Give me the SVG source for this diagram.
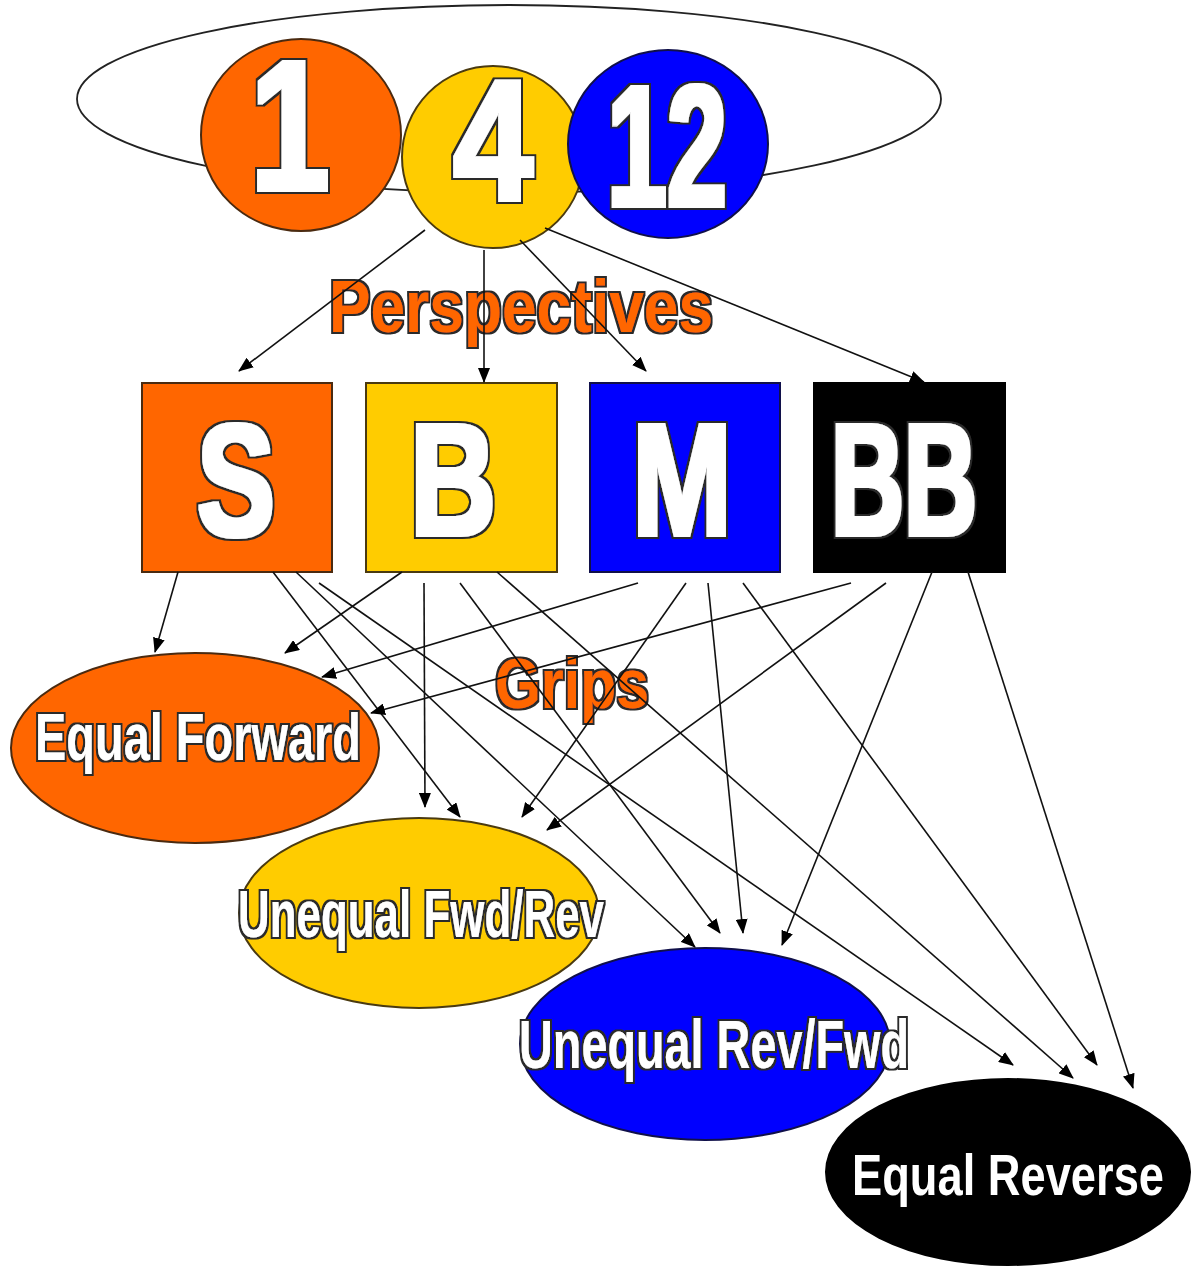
<svg xmlns="http://www.w3.org/2000/svg" width="1192" height="1269" viewBox="0 0 1192 1269">
  <defs>
    <marker id="arrow" markerWidth="15" markerHeight="12" refX="14" refY="6" orient="auto" markerUnits="userSpaceOnUse">
      <path d="M0,0 L15,6 L0,12 z" fill="#000"/>
    </marker>
    <!-- thickens glyphs and rings them with a dark outline -->
    <filter id="heavy" x="-15%" y="-15%" width="130%" height="130%">
      <feMorphology in="SourceGraphic" operator="dilate" radius="2.2" result="fat"/>
      <feMorphology in="SourceAlpha" operator="dilate" radius="4" result="wide"/>
      <feFlood flood-color="#2a2a2a" result="ink"/>
      <feComposite in="ink" in2="wide" operator="in" result="outline"/>
      <feMerge><feMergeNode in="outline"/><feMergeNode in="fat"/></feMerge>
    </filter>
    <filter id="outlined" x="-10%" y="-20%" width="120%" height="140%">
      <feMorphology in="SourceGraphic" operator="dilate" radius="0.4" result="fat"/>
      <feMorphology in="SourceAlpha" operator="dilate" radius="1.9" result="wide"/>
      <feFlood flood-color="#2a2a2a" result="ink"/>
      <feComposite in="ink" in2="wide" operator="in" result="outline"/>
      <feMerge><feMergeNode in="outline"/><feMergeNode in="fat"/></feMerge>
    </filter>
    <style>
      .lbl { font-family: "Liberation Sans Narrow", "Liberation Sans", Arial, sans-serif; font-weight: bold; text-anchor: middle; }
      .big { fill: #fff; filter: url(#heavy); }
      .white { fill: #fff; filter: url(#outlined); }
      .plain { fill: #fff; }
      .orangeText { fill: #ff6600; filter: url(#outlined); }
      .orange { fill: #ff6600; stroke: #4a2a10; stroke-width: 2; }
      .yellow { fill: #ffcc00; stroke: #4a3a10; stroke-width: 2; }
      .blue { fill: #0000ff; stroke: #10104a; stroke-width: 2; }
      .black { fill: #000; stroke: #000; stroke-width: 2; }
      .conn line { stroke: #111; stroke-width: 1.6; marker-end: url(#arrow); }
    </style>
  </defs>

  <rect width="1192" height="1269" fill="#fff"/>

  <!-- outer grouping ellipse -->
  <g id="group-ring">
    <ellipse cx="509" cy="99" rx="432" ry="94" fill="none" stroke="#222" stroke-width="1.8"/>
  </g>

  <!-- number circles -->
  <g id="circle-1">
    <ellipse class="orange" cx="301" cy="135" rx="100" ry="96"/>
    <text class="lbl big" x="290" y="190" font-size="186" textLength="80" lengthAdjust="spacingAndGlyphs">1</text>
  </g>
  <g id="circle-4">
    <ellipse class="yellow" cx="493" cy="157" rx="91" ry="91"/>
    <text class="lbl big" x="493" y="200" font-size="172" textLength="80" lengthAdjust="spacingAndGlyphs">4</text>
  </g>
  <g id="circle-12">
    <ellipse class="blue" cx="668" cy="144" rx="100" ry="94"/>
    <text class="lbl big" x="667" y="206" font-size="172" textLength="120" lengthAdjust="spacingAndGlyphs">12</text>
  </g>

  <!-- labels -->
  <g id="label-perspectives">
    <text class="lbl orangeText" x="521" y="332" font-size="74" textLength="384" lengthAdjust="spacingAndGlyphs">Perspectives</text>
  </g>
  <g id="label-grips">
    <text class="lbl orangeText" x="572" y="708" font-size="70" textLength="154" lengthAdjust="spacingAndGlyphs">Grips</text>
  </g>

  <!-- perspective boxes -->
  <g id="box-s">
    <rect class="orange" x="142" y="383" width="190" height="189"/>
    <text class="lbl big" x="236" y="535" font-size="160" textLength="78" lengthAdjust="spacingAndGlyphs">S</text>
  </g>
  <g id="box-b">
    <rect class="yellow" x="366" y="383" width="191" height="189"/>
    <text class="lbl big" x="453" y="535" font-size="160" textLength="86" lengthAdjust="spacingAndGlyphs">B</text>
  </g>
  <g id="box-m">
    <rect class="blue" x="590" y="383" width="190" height="189"/>
    <text class="lbl big" x="682" y="535" font-size="160" textLength="100" lengthAdjust="spacingAndGlyphs">M</text>
  </g>
  <g id="box-bb">
    <rect class="black" x="814" y="383" width="191" height="189"/>
    <text class="lbl big" x="904" y="535" font-size="160" textLength="146" lengthAdjust="spacingAndGlyphs">BB</text>
  </g>

  <!-- grip ellipses -->
  <g id="grip-equal-forward">
    <ellipse class="orange" cx="195" cy="748" rx="184" ry="95"/>
    <text class="lbl white" x="198" y="760" font-size="66" textLength="326" lengthAdjust="spacingAndGlyphs">Equal Forward</text>
  </g>
  <g id="grip-unequal-fwd-rev">
    <ellipse class="yellow" cx="419" cy="913" rx="180" ry="95"/>
    <text class="lbl white" x="421" y="937" font-size="66" textLength="366" lengthAdjust="spacingAndGlyphs">Unequal Fwd/Rev</text>
  </g>
  <g id="grip-unequal-rev-fwd">
    <ellipse class="blue" cx="705" cy="1044" rx="185" ry="96"/>
    <text class="lbl white" x="714" y="1068" font-size="68" textLength="390" lengthAdjust="spacingAndGlyphs">Unequal Rev/Fwd</text>
  </g>
  <g id="grip-equal-reverse">
    <ellipse class="black" cx="1008" cy="1172" rx="182" ry="93"/>
    <text class="lbl plain" x="1008" y="1195" font-size="57" textLength="312" lengthAdjust="spacingAndGlyphs">Equal Reverse</text>
  </g>

  <!-- connectors -->
  <g id="connectors" class="conn">
    <!-- 4 -> perspectives -->
    <line x1="425" y1="230" x2="239" y2="371"/>
    <line x1="484" y1="250" x2="484" y2="382"/>
    <line x1="520" y1="240" x2="646" y2="371"/>
    <line x1="545" y1="228" x2="924" y2="382"/>
    <!-- S -> grips -->
    <line x1="178" y1="572" x2="155" y2="652"/>
    <line x1="273" y1="572" x2="460" y2="817"/>
    <line x1="296" y1="572" x2="695" y2="947"/>
    <line x1="319" y1="583" x2="1013" y2="1065"/>
    <!-- B -> grips -->
    <line x1="402" y1="572" x2="285" y2="653"/>
    <line x1="424" y1="583" x2="425" y2="807"/>
    <line x1="460" y1="583" x2="720" y2="933"/>
    <line x1="497" y1="572" x2="1073" y2="1078"/>
    <!-- M -> grips -->
    <line x1="638" y1="583" x2="322" y2="677"/>
    <line x1="686" y1="583" x2="522" y2="817"/>
    <line x1="708" y1="583" x2="743" y2="933"/>
    <line x1="743" y1="583" x2="1097" y2="1065"/>
    <!-- BB -> grips -->
    <line x1="851" y1="583" x2="371" y2="713"/>
    <line x1="886" y1="583" x2="547" y2="830"/>
    <line x1="932" y1="572" x2="782" y2="945"/>
    <line x1="968" y1="572" x2="1133" y2="1088"/>
  </g>
</svg>
